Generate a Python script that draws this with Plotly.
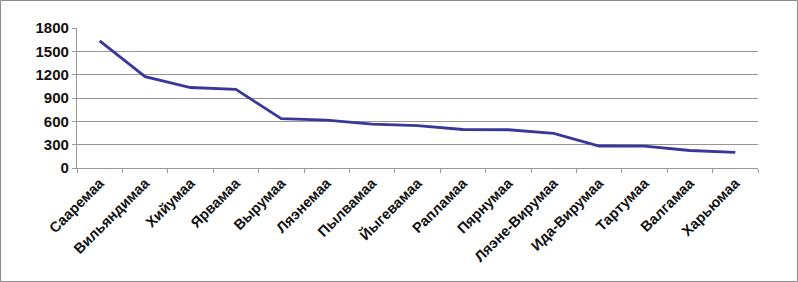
import plotly.graph_objects as go

counties = ["Сааремаа", "Вильяндимаа", "Хийумаа", "Ярвамаа", "Вырумаа", "Ляэнемаа",
            "Пылвамаа", "Йыгевамаа", "Рапламаа", "Пярнумаа", "Ляэне-Вирумаа",
            "Ида-Вирумаа", "Тартумаа", "Валгамаа", "Харьюмаа"]
values = [1635, 1175, 1035, 1010, 635, 615, 565, 545, 495, 492, 445, 283, 280, 225, 200]
y_ticks = [0, 300, 600, 900, 1200, 1500, 1800]

W, H = 798, 282
ml, mr, mt, mb = 77, 40, 28, 114
pw, ph = W - ml - mr, H - mt - mb

fig = go.Figure(go.Scatter(
    x=counties, y=values, mode="lines",
    line=dict(color="#38379b", width=2.8),
    hoverinfo="x+y",
))

fig.update_layout(
    width=W, height=H,
    margin=dict(l=ml, r=mr, t=mt, b=mb, autoexpand=False),
    paper_bgcolor="white", plot_bgcolor="white",
    showlegend=False,
    font=dict(family="Liberation Sans, Arial, sans-serif", color="#111111"),
    xaxis=dict(
        type="category", tickangle=-45, automargin=False,
        tickfont=dict(size=14.5, family="Liberation Sans, Arial, sans-serif", weight="bold"),
        showline=True, linecolor="#999999", linewidth=1.2,
        ticks="outside", tickson="boundaries", ticklen=4, tickcolor="#999999",
        showgrid=False, range=[-0.5, len(counties) - 0.5],
    ),
    yaxis=dict(
        range=[0, 1800], tickvals=y_ticks, ticktext=[str(v) for v in y_ticks],
        automargin=False,
        tickfont=dict(size=15, family="Liberation Sans, Arial, sans-serif", weight="bold"),
        showgrid=True, gridcolor="#959595", gridwidth=1.4,
        showline=True, linecolor="#999999", linewidth=1.2,
        ticks="outside", ticklen=4, tickcolor="#999999",
        zeroline=False,
    ),
    shapes=[dict(
        type="rect", xref="paper", yref="paper",
        x0=(0.5 - ml) / pw, x1=(W - 0.5 - ml) / pw,
        y0=-(mb - 0.5) / ph, y1=1 + (mt - 0.5) / ph,
        line=dict(color="#8a8a8a", width=1), fillcolor="rgba(0,0,0,0)", layer="above",
    )],
)

fig.write_html(
    "out.html",
    config={"displayModeBar": False},
    post_script="document.body.style.margin='0';document.body.style.overflow='hidden';",
)
